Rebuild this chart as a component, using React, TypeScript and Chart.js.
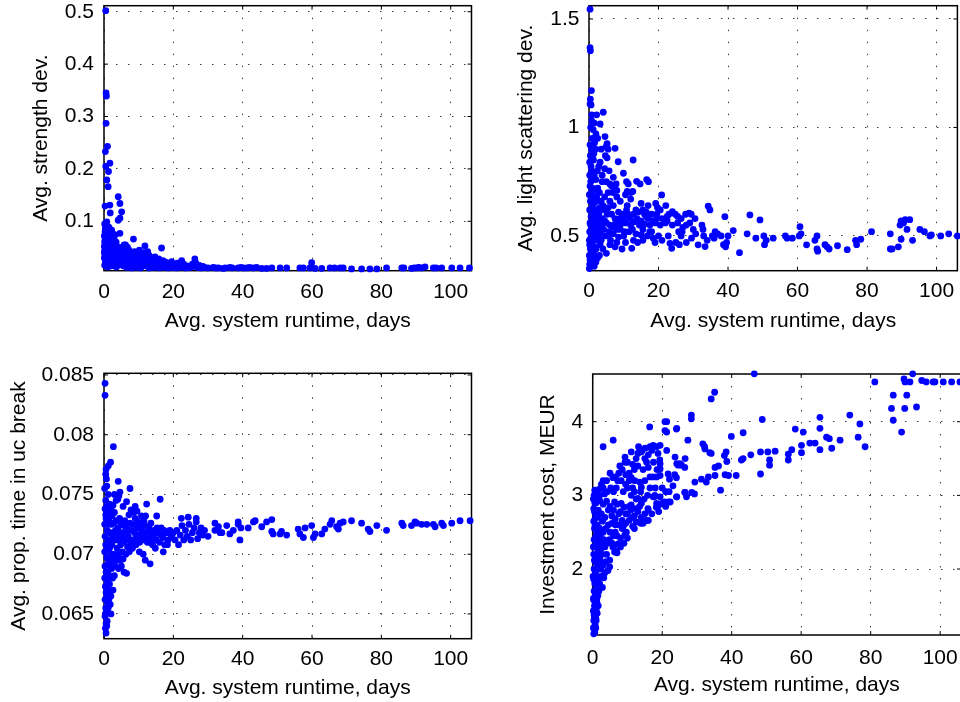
import React, { useEffect, useRef } from "react";
import { Chart, registerables } from "chart.js";

Chart.register(...registerables);

// ---------- data: [avg. system runtime (days), metric] ----------
const runtimeTicks = [0, 20, 40, 60, 80, 100];
const strengthTicks = [0.1, 0.2, 0.3, 0.4, 0.5];
const scatteringTicks = [0.5, 1, 1.5];
const ucBreakTicks = [0.065, 0.07, 0.075, 0.08, 0.085];
const costTicks = [2, 3, 4];

const strengthPoints: [number, number][] = [
  [0.5,0.502],[0.6,0.345],[0.7,0.339],[0.6,0.287],[0.4,0.233],[1.0,0.243],[0.5,0.205],[1.7,0.211],[1.3,0.195],[0.8,0.179],[1.2,0.166],[0.3,0.129],[1.7,0.131],[1.8,0.116],[4.1,0.147],[4.6,0.134],[5.1,0.118],[4.1,0.102],[4.6,0.106],[0.8,0.099],[2.2,0.083],[1.2,0.09],[4.6,0.077],[3.2,0.074],[8.5,0.066],[11.8,0.053],[16.6,0.049],[14.7,0.032],[26.2,0.028],[22.4,0.025],[19.5,0.023],[59.9,0.021],
  [0.1,0.072],[0.2,0.062],[0.1,0.052],[0.2,0.043],[0.3,0.036],[0.1,0.03],[0.4,0.086],[0.5,0.076],[0.6,0.066],[0.4,0.056],[0.7,0.05],[0.5,0.045],[0.8,0.04],[0.9,0.034],[0.6,0.029],[1.0,0.024],[0.7,0.02],[1.1,0.088],[1.5,0.078],[1.3,0.07],[1.0,0.061],[1.5,0.055],[1.2,0.048],[1.4,0.042],[1.6,0.036],[1.3,0.03],[1.8,0.025],[1.5,0.02],[2.0,0.08],[2.2,0.07],[2.0,0.06],[2.4,0.05],[2.1,0.045],[2.6,0.04],[2.3,0.033],[2.8,0.028],[2.5,0.022],[3.0,0.018],[2.7,0.015],[3.0,0.064],[3.3,0.055],[3.5,0.046],[3.2,0.04],[3.8,0.035],[3.4,0.03],[4.0,0.025],[3.7,0.02],[4.3,0.017],[0.2,0.016],[0.9,0.016],[1.6,0.014],[0.2,0.095],[0.3,0.08],[2.6,0.058],[2.9,0.05],[1.9,0.052],[1.1,0.035],[2.0,0.03],[0.5,0.025],[2.4,0.018],[3.6,0.013],[1.0,0.013],[0.4,0.02],
  [0.3,0.058],[0.9,0.07],[1.7,0.065],[2.5,0.065],[3.5,0.06],[0.6,0.082],[1.5,0.088],[2.8,0.075],[3.8,0.05],[4.2,0.04],[4.8,0.035],[5.5,0.025],[6.2,0.03],[6.8,0.02],[7.5,0.012],[8.2,0.018],[9.2,0.025],[10.8,0.028],[11.8,0.02],[12.8,0.016],[13.5,0.025],[14.5,0.012],[15.2,0.022],[16.2,0.014],[17.2,0.018],[18.2,0.02],[19.2,0.014],[20.2,0.012],[21.2,0.02],[22.5,0.015],[24.5,0.012],[26.0,0.014],[3.0,0.035],[2.2,0.038],[1.4,0.025],[0.8,0.055],[0.3,0.045],[0.1,0.04],
  [4.5,0.05],[5.0,0.042],[5.5,0.046],[6.0,0.036],[6.5,0.04],[7.0,0.03],[7.5,0.038],[8.0,0.025],[8.5,0.032],[9.0,0.02],[9.5,0.028],[10.0,0.035],[10.5,0.018],[11.0,0.025],[11.5,0.03],[12.0,0.015],[12.5,0.022],[13.0,0.035],[13.5,0.018],[14.0,0.012],[14.5,0.025],[15.0,0.015],[15.5,0.02],[16.0,0.011],[16.5,0.018],[17.0,0.025],[17.5,0.012],[18.0,0.015],[18.5,0.011],[19.0,0.02],[5.0,0.02],[5.5,0.015],[6.0,0.025],[6.5,0.012],[7.0,0.018],[7.5,0.02],[8.0,0.011],[8.5,0.015],[9.0,0.035],[9.5,0.012],[10.0,0.02],[10.5,0.011],[11.0,0.014],[11.5,0.04],[12.0,0.03],[13.0,0.011],[4.5,0.03],[5.2,0.03],[6.2,0.055],[7.2,0.045],[8.8,0.042],[10.2,0.045],[12.6,0.042],[13.8,0.03],[15.8,0.028],[17.8,0.022],[19.8,0.012],[20.5,0.018],[21.0,0.011],[21.5,0.015],[22.0,0.012],[23.0,0.018],[23.5,0.011],[24.0,0.015],[25.0,0.012],[25.5,0.018],[26.5,0.02],[27.0,0.012],[27.5,0.016],[28.0,0.011],[28.5,0.014],[29.0,0.012],[30.0,0.011],[6.8,0.05],[5.8,0.055],
  [31.5,0.012],[32.2,0.011],[33,0.011],[34.4,0.01],[35,0.011],[36.3,0.012],[37,0.011],[38.7,0.011],[39.5,0.012],[40.2,0.011],[41.2,0.011],[42,0.012],[43.1,0.011],[44,0.012],[45.5,0.01],[46.9,0.01],[48.4,0.011],[50.8,0.011],[52.7,0.011],[56.5,0.011],[57.5,0.011],[59.4,0.011],[60.9,0.01],[62.8,0.01],[65.2,0.011],[66.5,0.011],[68.1,0.011],[69,0.011],[71.4,0.009],[74.3,0.009],[76.7,0.009],[78.7,0.009],[81.5,0.011],[85.9,0.011],[86.5,0.011],[88.7,0.01],[89.5,0.011],[90.2,0.011],[90.8,0.012],[91.5,0.011],[92.6,0.013],[95,0.011],[95.8,0.011],[97.4,0.011],[100.3,0.011],[102.7,0.011],[105.4,0.011],
];

const scatteringPoints: [number, number][] = [
  [0.3,1.545],[0.3,1.368],[0.4,1.354],[0.7,1.17],[0.4,1.13],[0.3,1.108],[0.6,1.104],[0.8,1.058],[2.2,1.058],[4.1,1.07],[3.2,1.016],[0.5,1.0],[1.2,0.99],[2.0,0.97],[0.9,0.95],[1.6,0.93],[4.6,0.958],[5.2,0.925],[4.9,0.91],[5.5,0.9],[7.5,0.904],[4.7,0.87],[5.2,0.86],[8.4,0.842],[12.7,0.85],[1.9,0.9],[0.7,0.9],[0.4,0.87],[1.3,0.85],[3.2,0.84],[4.5,0.81],[5.8,0.8],[2.4,0.8],[9.9,0.789],[10.8,0.75],[11.3,0.74],[13.7,0.752],[14.7,0.74],[16.6,0.76],[17.1,0.75],[11.0,0.705],[12.0,0.7],[12.6,0.705],[10.5,0.69],[6.5,0.73],[7.2,0.72],[7.8,0.74],[6.8,0.7],[8.0,0.71],[20.9,0.689],[19.2,0.65],[19.7,0.63],[22.1,0.64],[34.3,0.637],[34.8,0.62],[39.1,0.589],[46.3,0.597],[49.2,0.574],
  [13.5,0.62],[14.2,0.61],[15.5,0.62],[16.5,0.61],[16.5,0.59],[8.5,0.61],[9.5,0.6],[10.5,0.59],[11.2,0.6],[9.0,0.58],[24,0.612],[23.0,0.6],[22.5,0.59],[27.8,0.6],[28.8,0.605],[29.4,0.6],[25.5,0.59],[18.0,0.6],[21.0,0.58],[19.5,0.58],
  [4.0,0.64],[4.8,0.62],[5.5,0.63],[3.5,0.66],[3.0,0.7],[2.5,0.72],[3.8,0.75],[2.0,0.76],[6.0,0.66],[7.0,0.64],[1.5,0.68],[1.0,0.72],[0.5,0.75],[0.8,0.8],[1.8,0.62],[2.8,0.6],[1.2,0.58],
  [2.5,0.56],[3.5,0.55],[5.0,0.56],[6.0,0.55],[7.5,0.555],[9.0,0.55],[10.5,0.56],[12.0,0.55],[13.0,0.565],[14.5,0.55],[16.0,0.555],[17.5,0.55],[19.0,0.56],[20.5,0.55],[22.0,0.56],[24.0,0.55],[25.5,0.56],[28,0.55],[30.0,0.53],[32.5,0.55],[32.8,0.53],[36.3,0.52],[25.8,0.52],[26.8,0.52],[31.4,0.459],[33.4,0.451],[38.7,0.46],[39.6,0.47],[43.3,0.423],[23.3,0.466],[23.8,0.443],[12.3,0.443],[9.5,0.44],[6.0,0.46],[25,0.47],[26.5,0.5],[12.8,0.48],
  [5.5,0.5],[7.0,0.51],[8.5,0.495],[10.0,0.5],[11.5,0.52],[13.5,0.51],[15.0,0.505],[16.8,0.5],[18.5,0.49],[20.0,0.5],[21.0,0.48],[17.5,0.52],[14.0,0.47],[8.0,0.47],[3.5,0.48],[4.5,0.5],[9.0,0.53],[28.0,0.47],[29.5,0.49],[26.0,0.46],[22.8,0.5],[33.0,0.5],[34.0,0.48],[35.5,0.5],[37.0,0.51],[38.0,0.5],[40.0,0.5],[41.5,0.525],[36.0,0.49],[39.3,0.45],[30.7,0.51],
  [3.8,0.58],[4.5,0.57],[5.2,0.6],[6.5,0.6],[7.5,0.58],[8.2,0.56],[9.8,0.57],[10.8,0.62],[11.8,0.58],[12.8,0.6],[13.8,0.58],[15.0,0.57],[16.0,0.6],[17.0,0.58],[18.5,0.57],[19.5,0.6],[20.5,0.62],[3.2,0.52],[4.2,0.53],[5.8,0.52],[6.8,0.54],[8.0,0.53],[10.2,0.52],[12.5,0.53],[15.5,0.53],[18.0,0.52],[6.2,0.48],[7.5,0.45],[10.5,0.47],[15.5,0.48],[19.0,0.47],[4.0,0.44],[5.0,0.42],[3.0,0.41],[2.5,0.4],[2.0,0.38],[1.5,0.36],[2.2,0.58],[3.5,0.62],[4.5,0.68],[5.5,0.7],[6.0,0.74],[7.0,0.77],[5.0,0.75],[3.8,0.78],[2.8,0.82],[3.5,0.9],[2.5,0.95],[1.5,1.02],[0.8,1.03],[1.4,0.88],[2.2,0.68],[1.2,0.52],[0.6,0.45],[0.4,0.4],[1.7,0.41],[9.0,0.66],[11.0,0.64],[12.0,0.67],[8.0,0.68],[15.0,0.65],[17.0,0.64],[22.5,0.57],[24.8,0.6],[26.5,0.58],[29.0,0.56],[30.5,0.58],[27.0,0.54],
  [45.5,0.51],[48.0,0.49],[50.3,0.5],[51.0,0.48],[53.0,0.49],[50.5,0.46],[56.5,0.5],[57.0,0.49],[58.5,0.49],[60.5,0.5],[60.7,0.543],[61.0,0.51],[62.6,0.459],[65.0,0.48],[65.6,0.5],[65.6,0.44],[65.8,0.43],[67.9,0.46],[68.5,0.45],[69.1,0.44],[71.5,0.455],[74.3,0.437],[76.7,0.48],[77.0,0.46],[78.2,0.485],[81.3,0.52],[86.7,0.51],[86.7,0.44],[87.2,0.44],[89.0,0.45],[89.5,0.55],[89.8,0.57],[90.5,0.56],[91.0,0.575],[92.3,0.575],[89.8,0.485],[91.5,0.53],[93.1,0.48],[95.2,0.53],[96.5,0.52],[98.1,0.5],[98.5,0.505],[101.2,0.5],[103.5,0.51],[106,0.5],
  [0.1,0.35],[0.2,0.37],[0.5,0.36],[0.3,0.39],[0.8,0.38],[0.1,0.41],[0.6,0.42],[1.0,0.4],[0.4,0.44],[1.2,0.43],[0.2,0.46],[0.8,0.47],[1.5,0.45],[0.5,0.49],[1.1,0.5],[0.2,0.52],[1.8,0.48],[0.7,0.53],[1.4,0.54],[2.0,0.52],[0.3,0.56],[1.0,0.57],[2.2,0.5],[0.6,0.59],[1.6,0.6],[0.2,0.62],[0.9,0.63],[0.4,0.66],[1.3,0.65],[2.1,0.66],[0.1,0.69],[0.7,0.7],[1.7,0.71],[0.3,0.73],[1.1,0.76],[0.2,0.78],[1.5,0.78],[0.6,0.82],[0.2,0.84],[1.0,0.86],[0.3,0.92],[2.5,0.55],[3.0,0.53],[2.7,0.5],[3.2,0.46],[2.0,0.44],[2.5,0.6],[3.0,0.63],[1.8,0.56],[0.1,0.48],[0.5,0.55],[0.9,0.43],[1.5,0.38],
];

const ucBreakPoints: [number, number][] = [
  [0.3,0.0843],[0.3,0.0833],[2.7,0.0790],[1.9,0.0777],[1.25,0.0774],[0.6,0.0771],[0.5,0.0767],[0.7,0.0763],[4.1,0.0761],[7.5,0.0755],[4.6,0.0752],[4.3,0.0749],[4.0,0.0746],[6.5,0.0744],[12.3,0.0742],[16.2,0.0746],[15.2,0.0732],[7.8,0.0737],[8.5,0.0735],[7.2,0.0733],[22.3,0.0730],[26.6,0.0730],[26.6,0.0727],[39.2,0.0712],[17.1,0.0702],[11.9,0.0695],[13.3,0.0692],
  [0.2,0.0755],[0.8,0.0757],[1.2,0.0750],[0.5,0.0745],[1.6,0.0742],[0.3,0.0738],[1.0,0.0735],[2.0,0.0738],[2.6,0.0741],[0.6,0.0730],[1.4,0.0728],[0.2,0.0725],[2.2,0.0725],[0.9,0.0720],[1.8,0.0718],[0.3,0.0715],[1.2,0.0712],[2.5,0.0715],[0.5,0.0708],[1.6,0.0705],[0.2,0.0702],[2.0,0.0700],[0.8,0.0697],[1.3,0.0693],[0.3,0.0690],[2.2,0.0688],[0.6,0.0685],[1.5,0.0682],[0.2,0.0680],[1.0,0.0677],[0.4,0.0673],[1.3,0.0670],[2.0,0.0665],[0.6,0.0668],[0.3,0.0662],[1.0,0.0660],[0.5,0.0655],[2.0,0.0650],[0.8,0.0652],[0.3,0.0648],[0.6,0.0642],[0.4,0.0638],[0.6,0.0634],[0.9,0.0644],[1.6,0.0675],[1.8,0.0658],
  [0.5,0.0733],[1.5,0.0736],[2.3,0.0732],[2.8,0.0726],[3.3,0.0720],[3.8,0.0715],[4.3,0.0712],[4.7,0.0718],[5.2,0.0714],[5.7,0.0724],[6.2,0.0716],[6.7,0.0712],[7.2,0.0720],[7.7,0.0710],[8.3,0.0725],[8.8,0.0718],[9.3,0.0714],[9.8,0.0727],[10.3,0.0710],[10.8,0.0720],[11.3,0.0716],[11.8,0.0724],[12.3,0.0713],[12.8,0.0720],[13.3,0.0710],[13.8,0.0718],[14.3,0.0714],[15.3,0.0722],[16.3,0.0716],[17.3,0.0720],[18.3,0.0708],[19.3,0.0716],[2.3,0.0708],[2.8,0.0718],[1.8,0.0712],[1.0,0.0705],[1.3,0.0725],[0.8,0.0740],[2.4,0.0695],[3.2,0.0690],[4.6,0.0695],[5.5,0.0696],[1.9,0.0690],[1.1,0.0685],[2.5,0.0680],[1.4,0.0662],[0.9,0.0665],[1.2,0.0655],[0.4,0.0650],[0.8,0.0640],
  [3.0,0.0735],[3.5,0.0728],[4.0,0.0722],[4.5,0.0730],[5.0,0.0725],[5.5,0.0718],[6.0,0.0728],[6.5,0.0722],[7.0,0.0715],[7.5,0.0726],[8.0,0.0720],[8.5,0.0712],[9.0,0.0730],[9.5,0.0722],[10.0,0.0716],[10.5,0.0725],[11.0,0.0712],[11.5,0.0728],[12.0,0.0718],[12.5,0.0710],[13.0,0.0722],[13.5,0.0715],[14.0,0.0708],[14.5,0.0720],[15.0,0.0712],[15.5,0.0718],[16.0,0.0710],[16.5,0.0722],[17.0,0.0714],[17.5,0.0708],[18.0,0.0718],[18.5,0.0712],[19.0,0.0720],[19.5,0.0714],[20.0,0.0718],[3.2,0.0712],[3.8,0.0705],[4.2,0.0700],[4.8,0.0708],[5.3,0.0702],[5.8,0.0710],[6.3,0.0700],[6.8,0.0706],[7.3,0.0702],[8.2,0.0705],[9.2,0.0708],[10.2,0.0702],[11.3,0.0700],[3.5,0.0695],[4.2,0.0688],[5.0,0.0690],[5.8,0.0685],[6.5,0.0684],[3.0,0.0682],[3.5,0.0745],[5.5,0.0740],[9.5,0.0736],[10.8,0.0732],[13.5,0.0726],[9.0,0.0740],[12.0,0.0732],[14.8,0.0705],[3.0,0.0750],[2.8,0.0700],[2.6,0.0670],
  [20.5,0.0712],[21.0,0.0720],[21.5,0.0708],[22.0,0.0716],[22.5,0.0724],[23.0,0.0712],[23.5,0.0720],[24.0,0.0715],[24.5,0.0725],[25.0,0.0712],[25.5,0.0718],[26.0,0.0722],[27.0,0.0713],[27.5,0.0718],[28.0,0.0722],[28.5,0.0716],[29.0,0.0720],[30.0,0.0715],[24.3,0.0731],
  [32,0.0720],[33.5,0.0718],[32,0.0726],[33,0.0723],[35.4,0.0724],[34,0.0718],[36.3,0.0717],[37.3,0.0720],[38.7,0.0725],[38.7,0.0727],[39.5,0.0722],[41.6,0.0722],[43.1,0.0727],[43.6,0.0728],[45.5,0.0723],[46.9,0.0727],[48.4,0.0729],[48.4,0.0719],[48.8,0.0717],[50.8,0.0717],[51.2,0.0719],[52.7,0.0716],[56.0,0.0721],[56.5,0.0717],[57.5,0.0714],[58.0,0.0722],[59.9,0.0724],[60.4,0.0714],[60.9,0.0717],[62.8,0.0717],[63.7,0.0721],[65.2,0.0725],[65.7,0.0728],[67.1,0.0723],[67.6,0.0721],[68.1,0.0726],[69.0,0.0727],[71.4,0.0728],[74.3,0.0726],[76.2,0.0721],[76.7,0.0719],[78.7,0.0724],[81.5,0.0720],[85.9,0.0726],[86.3,0.0724],[88.7,0.0724],[89.7,0.0727],[90.2,0.0726],[91.6,0.0725],[93.1,0.0725],[95.0,0.0725],[95.5,0.0723],[97.4,0.0726],[97.9,0.0724],[100.3,0.0726],[102.7,0.0728],[105.6,0.0728],
];

const costPoints: [number, number][] = [
  [46.5,4.65],[92.1,4.65],[81.2,4.54],[89.6,4.58],[89.9,4.54],[91.3,4.54],[94.7,4.56],[96.0,4.54],[98.0,4.54],[98.5,4.54],[100.9,4.54],[103.3,4.54],[105.7,4.54],
  [86.5,4.36],[90.4,4.36],[86.0,4.18],[89.8,4.18],[93.2,4.2],[86.5,4.02],[88.9,3.86],
  [74.0,4.09],[76.9,3.97],[76.4,3.79],[78.4,3.66],[71.2,3.75],[67.3,3.79],[68.1,3.77],[68.8,3.64],[65.4,4.06],[65.4,3.91],[65.4,3.62],[62.5,3.71],[64.0,3.71],[60.1,3.68],[60.1,3.58],[60.6,3.86],[58.3,3.9],[57.3,3.62],[56.3,3.56],[56.3,3.48],[52.5,3.6],[50.4,3.59],[50.9,3.48],[50.9,3.41],[48.3,3.59],[48.8,4.03],[48.3,3.29],[45.5,3.55],[43.3,3.85],[43.3,3.5],[42.8,3.48],[41.3,3.27],[39.9,3.8],[39.1,3.27],[38.6,3.46],[38.4,3.59],[37.9,3.54],[38.1,3.28],[36.8,3.07],[36.2,3.4],[35.2,3.38],[35.2,3.27],[34.1,4.31],[35.1,4.4],[33.7,3.58],[34.1,3.57],[31.7,3.7],[32.2,3.66],[32.3,3.63],[31.3,3.22],[32.7,3.18],[33.3,3.25],[29.4,3.18],[29.3,3.02],[28.4,4.09],[28.4,4.04],[27.4,3.75],[26.6,3.5],[25.6,3.41],[25.1,3.43],[24.6,3.41],[24.2,3.43],[26.6,3.04],[27.0,2.98],[28.5,3.04],[24.2,3.91],[23.7,3.52],[21.3,4.0],[20.8,4.0],[20.8,3.88],[21.3,3.86],[21.3,3.61],[24.2,2.98],[22.3,2.91],[21.8,2.91],[24.1,3.9],[26.5,3.38],[23.6,3.28],[24.1,3.24],[21.7,3.29],[22.1,3.22],[23.1,3.13],
  [19.4,3.68],[18.4,3.66],[17.4,3.68],[16.5,3.66],[17.0,3.61],[16.4,3.93],[19.4,3.43],[19.4,3.36],[19.4,3.27],[17.4,3.25],[18.4,3.25],[16.5,3.25],[16.0,3.38],[15.1,3.64],[14.1,3.61],[13.2,3.66],[19.4,2.98],[19.9,2.89],[18.9,2.86],[18.4,2.89],[17.4,2.98],[17.9,3.0],[16.0,2.8],[15.5,2.66],[16.0,2.66],[20.7,2.91],[18.3,2.84],[15.9,2.82],
  [9.3,3.52],[9.3,3.45],[5.9,3.75],[3.0,3.66],[0.6,3.07],[1.1,3.05],[3.0,3.2],[5.8,3.24],[8.2,3.2],[11.1,3.24],[12.1,3.2],[14.0,3.11],[11.1,3.0],[13.0,2.96],[17.8,2.98],[24.1,2.98],[26.5,3.04],[3.4,3.02],[6.3,2.91],[8.2,2.89],[11.1,2.87],[14.0,2.89],
  [11.1,3.59],[13.5,3.63],[14.0,3.59],[13.0,3.57],[15.0,3.5],[15.5,3.45],[14.5,3.35],[13.0,3.4],[12.0,3.35],[11.5,3.42],[10.5,3.3],[9.5,3.28],[7.5,3.3],[6.8,3.1],[8.8,3.05],[10.0,3.1],[12.0,3.05],[13.5,3.18],[15.0,3.2],[16.5,3.1],[18.8,3.57],[19.3,3.48],[19.3,3.36],
  [2.0,3.0],[3.0,3.1],[4.2,3.05],[5.2,3.1],[6.0,3.05],[7.2,3.2],[8.5,3.35],[9.5,3.15],[10.5,3.2],[11.5,3.1],[12.5,2.95],[13.8,3.05],[14.8,2.95],[15.8,3.0],[4.5,2.8],[5.5,2.72],[6.5,2.6],[7.5,2.75],[8.5,2.66],[9.5,2.75],[10.5,2.85],[11.5,2.7],[12.5,2.82],[13.5,2.85],[2.8,2.65],[3.8,2.55],[4.8,2.4],[5.8,2.3],[6.5,2.5],[7.0,2.45],[8.8,2.58],[2.2,2.45],[3.2,2.4],[4.2,2.35],[1.8,2.3],[2.8,2.2],[3.8,2.1],[1.5,2.1],[2.3,2.0],[3.2,1.88],[1.8,1.7],[1.2,1.6],[1.6,1.5],[0.9,1.2],[1.3,1.4],[0.5,1.35],[0.7,1.68],[1.0,2.0],[0.2,2.3],[0.7,2.6],[1.0,2.75],[0.9,3.0],[1.8,3.08],[2.5,3.15],[4.0,3.2],[5.0,3.3],[6.5,3.25],[7.8,3.4],[10.0,3.45],[12.5,3.5],[16.0,3.55],[17.5,3.45],[18.5,3.35],[18.0,3.1],[20.0,3.1],[21.0,3.05],[22.0,3.05],[17.0,2.75],[19.0,2.78],[21.0,2.85],[14.5,2.62],[12.0,2.55],[10.0,2.42],[9.0,2.35],[8.0,2.3],[7.0,2.22],
  [1.0,2.9],[2.0,2.93],[3.0,2.88],[4.0,2.92],[5.0,2.85],[6.0,2.8],[7.0,2.88],[8.0,2.78],[9.0,2.84],[10.0,2.75],[11.0,2.8],[12.0,2.72],[13.0,2.78],[14.0,2.7],[15.0,2.75],[12.5,2.64],[13.8,2.62],[10.5,2.66],[11.5,2.58],[9.5,2.62],[8.5,2.55],[7.5,2.6],[9.7,2.5],[9.2,2.46],[8.0,2.42],[7.3,2.34],[6.8,2.25],[6.3,2.23],[6.0,2.45],[5.5,2.35],[4.9,2.12],[4.9,2.03],[4.4,1.98],[4.0,2.2],[5.0,2.5],[4.5,2.6],[3.5,2.7],[2.5,2.75],[6.5,2.68],[5.5,2.62],[3.0,2.5],[2.5,2.35],[3.5,2.3],[2.0,2.55],[1.5,2.7],[2.0,2.15],[3.0,2.05],[2.5,1.9],[3.5,1.95],[2.0,1.8],[2.8,1.75],[1.5,2.0],
  [0.3,1.12],[0.6,1.14],[0.2,1.2],[0.7,1.24],[0.3,1.3],[0.9,1.33],[0.4,1.38],[0.2,1.43],[1.0,1.45],[0.5,1.5],[1.2,1.55],[0.3,1.58],[0.8,1.62],[1.5,1.64],[0.4,1.7],[1.1,1.75],[0.6,1.8],[1.7,1.82],[0.3,1.86],[1.3,1.9],[0.8,1.95],[0.4,2.0],[1.4,2.05],[0.7,2.1],[2.2,2.1],[1.0,2.18],[0.3,2.2],[1.6,2.25],[0.6,2.3],[2.4,2.28],[1.2,2.35],[0.4,2.4],[0.9,2.45],[1.8,2.42],[0.5,2.55],[1.3,2.6],[0.3,2.65],[0.8,2.7],[0.5,2.78],[0.3,2.82],[1.6,2.8],[0.6,2.9],[0.2,2.95],[0.4,3.0],[1.2,2.5],[0.2,1.6],[0.1,1.9],[0.5,2.12],[1.0,1.3],
];

const xTitle = "Avg. system runtime, days";

// ---------- layout of the four panels ----------
type PanelSpec = {
  left: number; top: number; w: number; h: number;
  yAxisW: number; xAxisH: number; padTop: number; padRight: number;
  yTitle: string; yTitlePad: number; xTitlePad: number; yTickPad: number; xTickPad: number;
  yMin: number; yMax: number; yTicks: number[]; pts: [number, number][];
};

const panels: PanelSpec[] = [
  { left: 0, top: 0, w: 480, h: 345, yAxisW: 104, xAxisH: 74.3, padTop: 5.7, padRight: 8.5,
    yTitle: "Avg. strength dev.", yTitlePad: 29, xTitlePad: 11.4, yTickPad: 10, xTickPad: 9,
    yMin: 0.0057, yMax: 0.5115, yTicks: strengthTicks, pts: strengthPoints },
  { left: 480, top: 0, w: 480, h: 345, yAxisW: 109, xAxisH: 74.3, padTop: 5.7, padRight: 2.6,
    yTitle: "Avg. light scattering dev.", yTitlePad: 34, xTitlePad: 11.1, yTickPad: 9.5, xTickPad: 8.4,
    yMin: 0.34, yMax: 1.561, yTicks: scatteringTicks, pts: scatteringPoints },
  { left: 0, top: 350, w: 480, h: 352, yAxisW: 104, xAxisH: 63.3, padTop: 23.3, padRight: 8.5,
    yTitle: "Avg. prop. time in uc break", yTitlePad: 6.4, xTitlePad: 1.1, yTickPad: 10, xTickPad: 8.4,
    yMin: 0.06293, yMax: 0.08514, yTicks: ucBreakTicks, pts: ucBreakPoints },
  { left: 480, top: 350, w: 490, h: 352, yAxisW: 112.7, xAxisH: 67, padTop: 24, padRight: 9,
    yTitle: "Investment cost, MEUR", yTitlePad: 55.7, xTitlePad: 4.4, yTickPad: 9.4, xTickPad: 10.4,
    yMin: 1.104, yMax: 4.648, yTicks: costTicks, pts: costPoints },
];

const FONT = "'Liberation Sans', Arial, Helvetica, sans-serif";
const FONT_SIZE = 21;

const framePlugin = {
  id: "matlabFrame",
  beforeDatasetsDraw(chart: any) {
    const { ctx, chartArea: a, scales } = chart;
    ctx.save();
    ctx.strokeStyle = "#000";
    ctx.lineWidth = 1.5;
    ctx.strokeRect(a.left, a.top, a.right - a.left, a.bottom - a.top);
    ctx.lineWidth = 1;
    const L = 4;
    ctx.beginPath();
    scales.x.ticks.forEach((t: any) => {
      const p = scales.x.getPixelForValue(t.value);
      ctx.moveTo(p, a.bottom); ctx.lineTo(p, a.bottom - L);
      ctx.moveTo(p, a.top); ctx.lineTo(p, a.top + L);
    });
    scales.y.ticks.forEach((t: any) => {
      const p = scales.y.getPixelForValue(t.value);
      ctx.moveTo(a.left, p); ctx.lineTo(a.left + L, p);
      ctx.moveTo(a.right, p); ctx.lineTo(a.right - L, p);
    });
    ctx.stroke();
    ctx.restore();
  },
};

function Panel({ spec }: { spec: PanelSpec }) {
  const ref = useRef<HTMLCanvasElement | null>(null);
  useEffect(() => {
    if (!ref.current) return;
    const grid = {
      color: "#3a3a3a", lineWidth: 1, drawTicks: false,
      borderDash: [1.5, 10.5],
    };
    const border = { display: false, dash: [1.5, 10.5] };
    const font = { family: FONT, size: FONT_SIZE };
    const chart = new Chart(ref.current, {
      type: "scatter",
      data: {
        datasets: [{
          data: spec.pts.map(([x, y]) => ({ x, y })),
          backgroundColor: "#0000ff",
          borderColor: "#0000ff",
          borderWidth: 0,
          pointRadius: 3.4,
          pointHoverRadius: 3.4,
          clip: false as any,
        }],
      },
      options: {
        animation: false,
        responsive: false,
        events: [],
        layout: { autoPadding: false, padding: { top: spec.padTop, right: spec.padRight, left: 0, bottom: 0 } },
        plugins: { legend: { display: false }, tooltip: { enabled: false } },
        scales: {
          x: {
            type: "linear", position: "bottom", min: 0, max: 106,
            grid: grid as any, border: border as any,
            ticks: { color: "#000", font, padding: spec.xTickPad, autoSkip: false, maxRotation: 0, callback: (v: any) => String(v) },
            title: { display: true, text: xTitle, color: "#000", font, padding: { top: 0, bottom: spec.xTitlePad } },
            afterBuildTicks: (s: any) => { s.ticks = runtimeTicks.map((v) => ({ value: v })); },
            afterFit: (s: any) => { s.height = spec.xAxisH; s.paddingLeft = 0; s.paddingRight = 0; },
          },
          y: {
            type: "linear", position: "left", min: spec.yMin, max: spec.yMax,
            grid: grid as any, border: border as any,
            ticks: { color: "#000", font, padding: spec.yTickPad, autoSkip: false, callback: (v: any) => String(v) },
            title: { display: true, text: spec.yTitle, color: "#000", font, padding: { top: spec.yTitlePad, bottom: 0 } },
            afterBuildTicks: (s: any) => { s.ticks = spec.yTicks.map((v) => ({ value: v })); },
            afterFit: (s: any) => { s.width = spec.yAxisW; s.paddingTop = 0; s.paddingBottom = 0; },
          },
        },
      } as any,
      plugins: [framePlugin],
    });
    return () => chart.destroy();
  }, [spec]);
  return (
    <canvas
      ref={ref}
      width={spec.w}
      height={spec.h}
      style={{ position: "absolute", left: spec.left, top: spec.top, width: spec.w, height: spec.h, display: "block" }}
    />
  );
}

export default function App() {
  return (
    <div style={{ position: "fixed", left: 0, top: 0, width: 960, height: 702, overflow: "hidden", background: "#fff" }}>
      {panels.map((p, i) => (
        <Panel key={i} spec={p} />
      ))}
    </div>
  );
}
